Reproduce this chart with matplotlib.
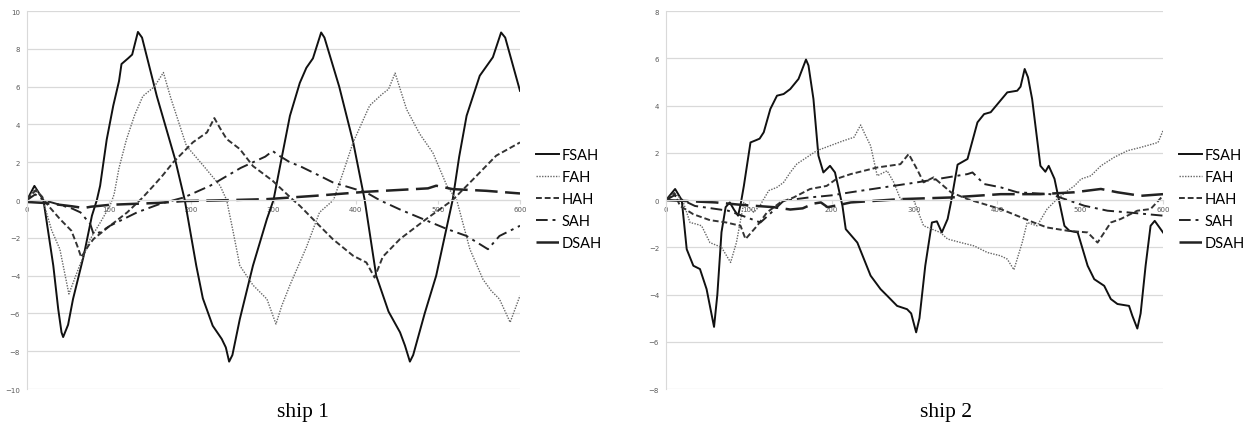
import matplotlib
matplotlib.use("Agg")
import matplotlib.pyplot as plt

labels = ["FSAH", "FAH", "HAH", "SAH", "DSAH"]
x_ticks = [0, 100, 200, 300, 400, 500, 600]

# ship 1
s1_fsah_x = [0, 9, 20, 32, 38, 42, 44, 50, 56, 69, 79, 85, 89, 97, 105, 112, 115, 123, 128, 135, 140, 158, 180, 192, 206, 214, 226, 237, 242, 246, 250, 259, 275, 292, 300, 308, 320, 332, 340, 348, 358, 362, 380, 397, 411, 425, 440, 454, 460, 466, 470, 484, 498, 508, 518, 526, 535, 551, 567, 577, 582, 600]
s1_fsah_y = [0, 0.75, 0, -3.47, -5.77, -7.0, -7.25, -6.6, -5.24, -2.95, -0.83, 0, 0.76, 3.2, 5.0, 6.3, 7.2, 7.5, 7.7, 8.9, 8.6, 5.5, 2.2, 0, -3.47, -5.2, -6.65, -7.35, -7.8, -8.55, -8.2, -6.3, -3.47, -1.0, 0, 1.8, 4.46, 6.2, 7.0, 7.5, 8.87, 8.6, 6.0, 3.06, 0, -4.0, -5.9, -7.0, -7.7, -8.55, -8.2, -6.0, -4.0, -2.0, 0, 2.3, 4.46, 6.58, 7.56, 8.87, 8.6, 5.78]
s1_fah_x = [0, 10, 18, 30, 40, 51, 64, 77, 89, 101, 106, 112, 121, 131, 141, 155, 166, 175, 194, 215, 235, 243, 251, 259, 275, 292, 303, 310, 320, 340, 356, 373, 385, 397, 417, 432, 440, 448, 462, 478, 494, 511, 523, 539, 555, 565, 575, 588, 600]
s1_fah_y = [0, 0.6, 0.2, -1.6, -2.6, -4.97, -3.47, -2.06, -1.2, -0.3, 0.3, 1.7, 3.2, 4.5, 5.5, 6.0, 6.75, 5.4, 2.87, 1.8, 0.76, 0, -1.7, -3.47, -4.5, -5.24, -6.56, -5.6, -4.5, -2.5, -0.65, 0, 1.5, 3.06, 5.0, 5.6, 5.87, 6.72, 4.8, 3.5, 2.5, 0.76, 0, -2.6, -4.2, -4.8, -5.24, -6.47, -5.06]
s1_hah_x = [0, 10, 18, 26, 40, 54, 61, 66, 75, 81, 101, 122, 140, 154, 165, 178, 202, 219, 228, 235, 243, 259, 275, 299, 324, 332, 356, 372, 397, 413, 423, 433, 454, 486, 518, 543, 571, 600]
s1_hah_y = [0, 0.5, 0.2, -0.3, -1.0, -1.62, -2.4, -3.03, -2.4, -2.06, -1.36, -0.65, 0.1, 0.76, 1.3, 2.0, 3.06, 3.58, 4.34, 3.8, 3.23, 2.7, 1.8, 1.02, 0, -0.3, -1.36, -2.06, -2.95, -3.3, -4.1, -3.0, -2.06, -1.0, 0, 1.1, 2.35, 3.05]
s1_sah_x = [0, 10, 20, 40, 55, 65, 77, 81, 89, 101, 134, 162, 191, 223, 260, 290, 299, 305, 320, 332, 356, 372, 413, 429, 454, 511, 535, 561, 575, 600]
s1_sah_y = [0, 0.3, 0.0, -0.25, -0.45, -0.65, -1.27, -1.8, -1.7, -1.36, -0.65, -0.2, 0.14, 0.76, 1.7, 2.3, 2.6, 2.4, 2.0, 1.8, 1.29, 0.94, 0.4, 0, -0.5, -1.53, -1.9, -2.6, -1.9, -1.36]
s1_dsah_x = [0, 20, 40, 55, 69, 78, 101, 160, 191, 230, 292, 352, 413, 488, 498, 518, 559, 600]
s1_dsah_y = [-0.1, -0.15, -0.25, -0.33, -0.42, -0.35, -0.25, -0.15, -0.05, -0.02, 0.05, 0.23, 0.44, 0.62, 0.76, 0.58, 0.49, 0.35]

# ship 2
s2_fsah_x = [0, 11, 19, 25, 33, 41, 49, 58, 62, 67, 72, 77, 82, 87, 90, 94, 102, 109, 113, 118, 126, 134, 142, 150, 160, 169, 172, 178, 184, 190, 198, 204, 213, 217, 231, 247, 259, 267, 279, 291, 296, 302, 306, 313, 321, 327, 333, 340, 344, 352, 364, 376, 384, 392, 402, 412, 424, 428, 433, 437, 442, 452, 458, 462, 469, 475, 481, 487, 497, 509, 517, 529, 537, 545, 559, 563, 569, 573, 579, 585, 590, 600]
s2_fsah_y = [0, 0.47, 0, -2.08, -2.78, -2.92, -3.77, -5.37, -4.0, -1.36, -0.3, -0.1, -0.4, -0.66, -0.2, 0.6, 2.44, 2.54, 2.6, 2.87, 3.86, 4.42, 4.49, 4.7, 5.13, 5.95, 5.7, 4.28, 1.88, 1.17, 1.45, 1.17, -0.24, -1.23, -1.8, -3.2, -3.77, -4.05, -4.48, -4.62, -4.8, -5.6, -5.0, -2.78, -0.95, -0.9, -1.37, -0.8, -0.1, 1.5, 1.74, 3.29, 3.64, 3.72, 4.14, 4.56, 4.63, 4.8, 5.55, 5.2, 4.28, 1.45, 1.2, 1.45, 0.9, -0.1, -1.09, -1.3, -1.37, -2.78, -3.35, -3.63, -4.19, -4.4, -4.48, -4.9, -5.44, -4.8, -2.78, -1.09, -0.88, -1.37]
s2_fah_x = [0, 10, 20, 29, 37, 43, 53, 67, 78, 85, 94, 100, 106, 114, 124, 134, 142, 150, 158, 170, 182, 198, 214, 227, 235, 240, 247, 255, 267, 275, 283, 299, 311, 331, 340, 356, 372, 388, 404, 412, 420, 430, 436, 448, 460, 471, 485, 493, 501, 513, 525, 541, 557, 573, 594, 600]
s2_fah_y = [0, 0.3, 0, -0.95, -1.02, -1.09, -1.8, -2.0, -2.64, -1.8, -0.1, -0.3, -0.52, -0.2, 0.4, 0.54, 0.75, 1.17, 1.53, 1.81, 2.09, 2.3, 2.51, 2.66, 3.18, 2.8, 2.3, 1.03, 1.24, 0.75, 0.04, 0, -1.09, -1.37, -1.65, -1.8, -1.94, -2.22, -2.36, -2.5, -2.95, -1.8, -0.95, -1.09, -0.38, 0, 0.4, 0.6, 0.89, 1.03, 1.45, 1.81, 2.09, 2.23, 2.44, 2.94]
s2_hah_x = [0, 10, 17, 33, 53, 73, 90, 96, 110, 122, 138, 154, 174, 194, 206, 223, 255, 283, 293, 303, 311, 323, 344, 364, 384, 404, 444, 460, 485, 509, 521, 537, 549, 569, 585, 598, 600]
s2_hah_y = [0, 0.3, -0.25, -0.6, -0.85, -0.95, -1.09, -1.65, -1.09, -0.52, -0.1, 0.11, 0.47, 0.6, 0.9, 1.1, 1.38, 1.52, 1.95, 1.31, 0.75, 0.96, 0.33, 0.04, -0.17, -0.38, -0.95, -1.16, -1.3, -1.37, -1.8, -0.95, -0.8, -0.45, -0.38, 0.11, 0.05]
s2_sah_x = [0, 10, 20, 35, 55, 75, 95, 114, 125, 142, 170, 200, 223, 263, 303, 364, 370, 384, 404, 424, 464, 505, 533, 557, 600]
s2_sah_y = [0, 0.2, 0, -0.25, -0.35, -0.45, -0.7, -0.95, -0.6, -0.03, 0.1, 0.2, 0.33, 0.54, 0.75, 1.1, 1.17, 0.68, 0.54, 0.33, 0.25, -0.24, -0.45, -0.52, -0.66]
s2_dsah_x = [0, 30, 60, 90, 110, 130, 150, 165, 178, 187, 195, 210, 223, 283, 344, 404, 452, 493, 525, 545, 573, 600]
s2_dsah_y = [0, -0.05, -0.1, -0.2, -0.25, -0.3, -0.4, -0.35, -0.15, -0.1, -0.3, -0.2, -0.1, 0.04, 0.11, 0.25, 0.25, 0.33, 0.47, 0.33, 0.18, 0.25]

styles = [
    dict(color="#111111", lw=1.4, ls="-"),
    dict(color="#666666", lw=1.0, ls=(0, (1, 1))),
    dict(color="#333333", lw=1.4, ls=(0, (3, 1.5))),
    dict(color="#222222", lw=1.4, ls=(0, (6, 2.5, 1.5, 2.5))),
    dict(color="#222222", lw=1.8, ls=(0, (9, 3))),
]

grid_c = "#d9d9d9"
tick_c = "#595959"

fig = plt.figure(figsize=(12.5, 4.27), dpi=100)
ax1 = fig.add_axes([0.0216, 0.0866, 0.3944, 0.885])
ax2 = fig.add_axes([0.5328, 0.0866, 0.3976, 0.885])

ship1 = [(s1_fsah_x, s1_fsah_y), (s1_fah_x, s1_fah_y), (s1_hah_x, s1_hah_y),
         (s1_sah_x, s1_sah_y), (s1_dsah_x, s1_dsah_y)]
ship2 = [(s2_fsah_x, s2_fsah_y), (s2_fah_x, s2_fah_y), (s2_hah_x, s2_hah_y),
         (s2_sah_x, s2_sah_y), (s2_dsah_x, s2_dsah_y)]

for ax, series, ylim, caption, cx in [(ax1, ship1, 10, "ship 1", 0.2424),
                                     (ax2, ship2, 8, "ship 2", 0.7568)]:
    for (xs, ys), lab, st in zip(series, labels, styles):
        ax.plot(xs, ys, label=lab, dash_capstyle="butt", **st)
    ax.set_xlim(0, 600)
    ax.set_ylim(-ylim, ylim)
    ax.set_xticks(x_ticks)
    ax.set_yticks(range(-ylim, ylim + 1, 2))
    ax.grid(axis="y", color=grid_c, lw=0.9)
    ax.set_axisbelow(True)
    for s in ["top", "right"]:
        ax.spines[s].set_visible(False)
    ax.spines["bottom"].set_position(("data", 0))
    ax.spines["bottom"].set_color(grid_c)
    ax.spines["left"].set_color(grid_c)
    ax.tick_params(axis="x", length=3, color=grid_c, labelsize=5, labelcolor=tick_c, pad=1)
    ax.tick_params(axis="y", length=0, labelsize=5, labelcolor=tick_c, pad=5)
    ax.legend(loc="center left", bbox_to_anchor=(1.02, 0.503), frameon=False,
              prop={"family": "Lato", "size": 10.5}, handlelength=1.6,
              handletextpad=0.15, labelspacing=0.55, borderaxespad=0)
    fig.text(cx, 0.033, caption, ha="center", va="center",
             family="Liberation Serif", fontsize=15.5)

fig.savefig("out.png", dpi=100)
